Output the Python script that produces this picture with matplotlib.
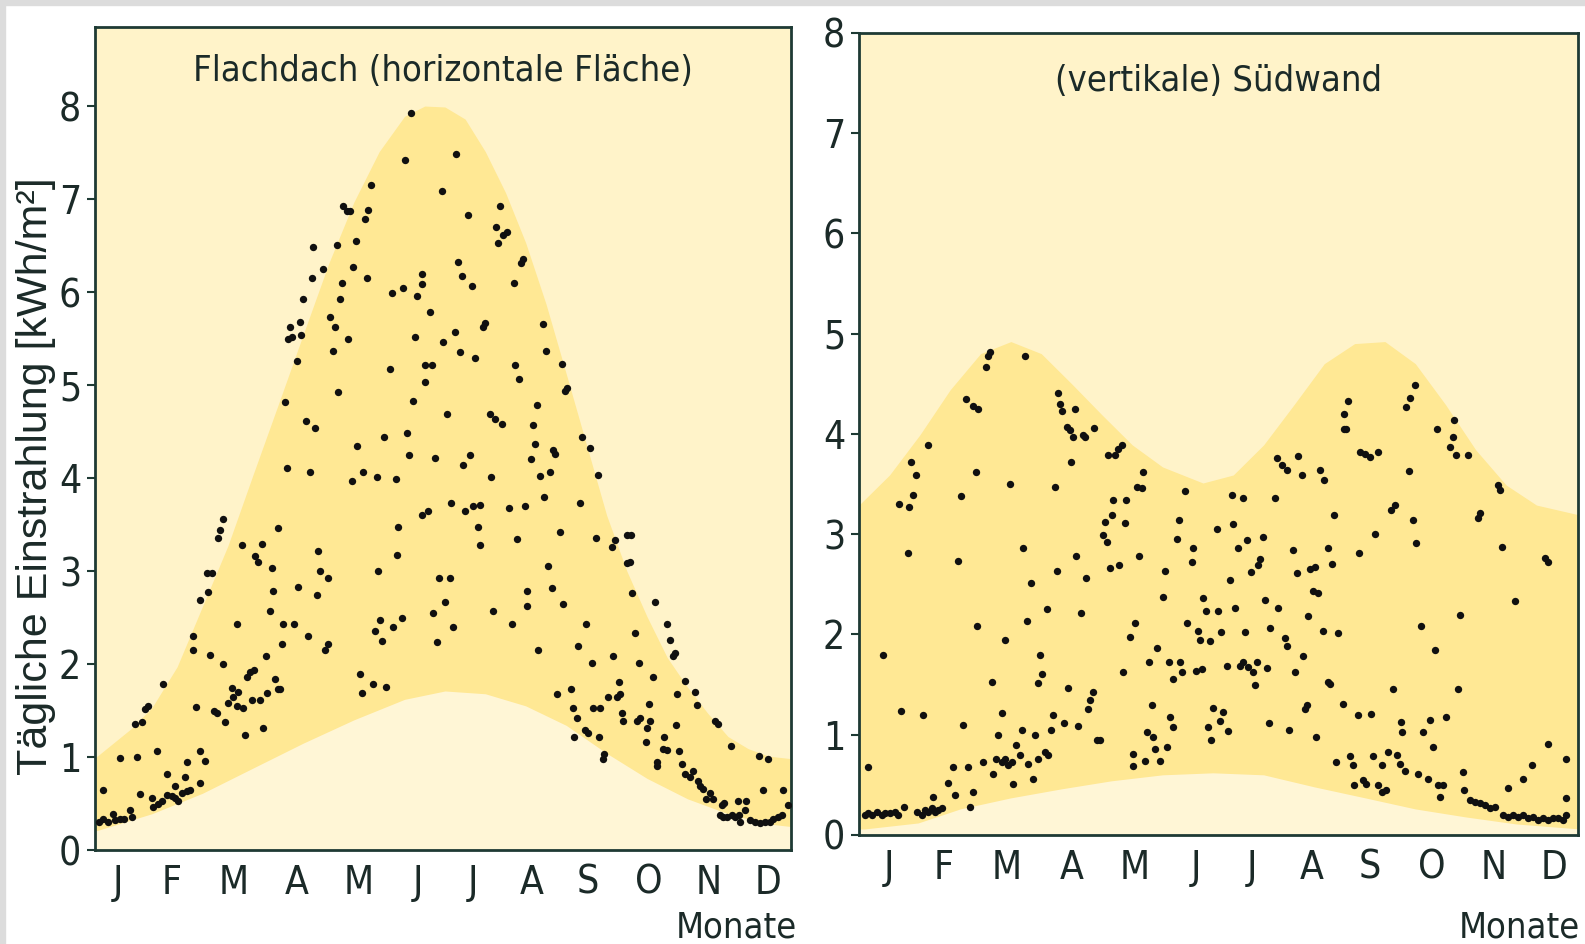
import matplotlib
matplotlib.use('Agg')
import matplotlib.pyplot as plt
from matplotlib.patches import Rectangle
from matplotlib import font_manager as fm

# ---------------- data ----------------
months = ['J', 'F', 'M', 'A', 'M', 'J', 'J', 'A', 'S', 'O', 'N', 'D']
month_pos = [15, 43, 75, 108, 140, 171, 199.5, 230, 259.5, 291, 322, 353]

# Flachdach (horizontal surface): day of year, daily irradiation kWh/m2
flat_day = [7.4, 4.9, 7.4, 10.0, 12.6, 13.5, 16.1, 17.9, 21.3, 22.2, 15.8, 24.8, 26.2, 23.6, 27.4, 28.8, 30.8,
            32.6, 33.4, 36.0, 37.8, 40.4, 43.0, 44.7, 46.4, 48.2, 50.8, 52.5, 35.5, 38.3, 40.4, 44.7, 49.9,
            51.1, 57.7, 60.3, 57.7, 55.6, 53.9, 54.2, 57.4, 61.2, 63.8, 62.0, 67.2, 68.1, 69.5, 62.9, 65.0,
            66.4, 69.8, 70.7, 72.4, 74.2, 75.0, 76.8, 77.6, 80.2, 81.1, 82.0, 83.7, 84.6, 85.5, 88.9, 90.6,
            92.4, 96.7, 98.4, 100.2, 99.3, 76.8, 79.4, 86.3, 88.0, 89.8, 92.0, 94.1, 95.0, 95.8, 98.1, 101.0,
            106.6, 101.9, 102.8, 103.6, 104.5, 105.4, 109.7, 110.2, 108.0, 111.4, 108.8, 112.8, 117.5, 114.6,
            114.0, 115.8, 116.6, 121.8, 119.2, 120.1, 124.4, 118.4, 122.7, 124.4, 125.3, 127.9, 126.7, 128.8,
            129.6, 130.5, 131.7, 132.2, 134.0, 135.7, 134.5, 136.6, 137.4, 138.6, 139.2, 140.9, 141.8, 142.6,
            143.5, 145.2, 146.6, 144.4, 147.5, 151.3, 152.2, 148.7, 154.4, 158.2, 162.6, 149.6, 150.4, 153.4,
            156.2, 157.4, 159.6, 160.8, 160.3, 163.4, 165.2, 166.5, 164.3, 167.2, 168.3, 169.5, 170.4,
            173.0, 173.0, 177.3, 174.7, 178.2, 174.7, 184.2, 183.4, 190.8, 192.0, 193.8, 199.0, 196.9, 190.0,
            192.9, 200.7, 186.0, 179.9, 173.0, 176.4, 188.0, 195.5, 199.8, 203.3, 202.4, 203.3, 194.6, 197.8,
            182.1, 187.4, 185.1, 179.0, 189.1, 180.8, 205.9, 205.0, 213.7, 211.6, 217.5, 212.8, 215.4, 208.5,
            211.1, 214.6, 208.8, 209.9, 219.8, 218.5, 222.4, 226.7, 221.5, 223.7, 221.0, 224.4, 225.8, 232.8,
            230.7, 231.9, 229.6, 234.5, 239.7, 236.6, 241.4, 242.3, 227.6, 227.9, 233.6, 235.9, 237.6, 238.8,
            240.6, 244.9, 245.8, 248.4, 247.5, 246.6, 255.3, 256.5, 260.5, 264.5, 254.4, 258.4, 261.4, 263.4,
            243.2, 250.4, 251.5, 253.6, 257.9, 259.6, 252.2, 265.3, 267.8, 267.1, 262.2, 265.7, 269.7, 272.3,
            274.4, 275.7, 277.0, 276.1, 277.8, 271.7, 273.5, 279.6, 281.6, 281.3, 279.9, 282.1, 283.9, 286.1,
            284.8, 286.5, 290.0, 291.7, 289.6, 291.3, 293.4, 294.3, 295.2, 295.5, 299.0, 300.4, 298.3, 300.4,
            302.1, 303.8, 304.7, 305.9, 305.2, 306.9, 309.9, 315.1, 316.0, 308.1, 309.9, 312.5, 314.2, 316.8,
            317.7, 319.4, 320.8, 322.9, 324.6, 329.0, 330.2, 325.5, 326.9, 333.6, 328.1, 329.8, 331.5, 334.1,
            335.9, 337.6, 338.1, 338.5, 341.6, 341.1, 343.7, 346.3, 348.9, 351.5, 354.1, 355.8, 358.4, 360.1,
            348.5, 353.2, 350.6, 360.7, 363.6]
flat_val = [0.65, 0.30, 0.33, 0.30, 0.39, 0.32, 0.33, 0.33, 0.43, 0.35, 0.99, 1.00, 0.60, 1.35, 1.38, 1.52, 1.55,
            0.56, 0.46, 0.49, 0.53, 0.59, 0.58, 0.56, 0.53, 0.61, 0.63, 0.64, 1.06, 1.78, 0.82, 0.69, 0.79,
            0.95, 1.06, 0.96, 0.72, 1.54, 2.30, 2.15, 2.69, 2.98, 2.98, 2.77, 3.36, 3.44, 3.56, 2.10, 1.50,
            1.47, 2.00, 1.38, 1.58, 1.74, 1.64, 1.55, 1.70, 1.53, 1.24, 1.86, 1.91, 1.61, 1.94, 1.61, 1.31,
            1.69, 1.84, 1.73, 2.22, 1.73, 2.43, 3.28, 3.16, 3.10, 3.29, 2.09, 2.57, 3.03, 2.78, 3.46, 2.43,
            2.43, 4.82, 4.11, 5.49, 5.62, 5.52, 5.68, 5.54, 5.26, 5.92, 2.83, 4.61, 4.54, 4.06,
            2.30, 6.15, 6.48, 6.25, 3.22, 3.00, 2.93, 2.74, 2.15, 2.22, 5.73, 5.62, 5.37, 6.51,
            4.92, 5.92, 6.10, 6.93, 6.87, 6.87, 5.49, 3.97, 6.27, 6.55, 4.34, 1.89, 1.69, 4.06,
            6.79, 6.88, 7.15, 6.15, 1.79, 2.47, 2.25, 2.35, 1.75, 2.40, 2.50, 4.01, 3.00, 4.44,
            5.17, 5.99, 3.99, 3.47, 3.17, 6.04, 4.48, 4.25, 7.42, 7.92, 4.83, 5.52, 5.96,
            6.19, 6.09, 5.79, 5.22, 5.22, 5.03, 5.46, 7.09, 7.48, 6.32, 6.17, 6.06, 6.83, 5.57,
            5.36, 5.29, 4.69, 4.22, 3.60, 3.65, 3.73, 3.65, 3.70, 3.71, 3.47, 3.28, 4.14, 4.25,
            2.92, 2.92, 2.67, 2.55, 2.40, 2.24, 5.67, 5.62, 6.93, 6.70, 6.65, 6.53, 6.61, 4.69,
            4.64, 4.58, 4.01, 2.57, 2.43, 3.68, 3.34, 3.70, 5.21, 5.06, 6.10, 6.31, 6.35, 4.78,
            4.57, 4.37, 4.20, 4.02, 4.07, 3.80, 4.30, 4.26, 2.78, 2.62, 2.15, 5.66, 5.37, 3.05,
            2.82, 3.42, 5.23, 4.97, 4.94, 2.65, 3.73, 4.44, 4.32, 4.03, 2.19, 2.43, 2.01, 3.36,
            1.68, 1.73, 1.53, 1.42, 1.29, 1.26, 1.21, 1.21, 1.03, 0.98, 1.53, 1.53, 1.64, 2.09,
            1.64, 1.81, 1.47, 1.68, 1.39, 3.26, 3.33, 3.39, 3.39, 3.10, 3.09, 2.76, 2.33, 2.01,
            1.39, 1.42, 1.31, 1.39, 1.16, 1.57, 1.86, 2.67, 0.90, 0.95, 1.21, 1.08, 1.09, 2.43,
            2.26, 2.09, 2.12, 1.68, 1.34, 1.06, 1.82, 1.70, 1.56, 0.92, 0.82, 0.79, 0.85, 0.74,
            0.69, 0.66, 0.55, 0.61, 0.55, 0.48, 0.51, 1.39, 1.36, 1.12, 0.38, 0.35, 0.35, 0.38,
            0.35, 0.53, 0.38, 0.30, 0.53, 0.43, 0.32, 0.30, 0.29, 0.30, 0.30, 0.33, 0.35, 0.38,
            1.01, 0.98, 0.65, 0.65, 0.48]

# envelope of the flat-roof band
flat_up_day = [0, 4.2, 22.1, 32.6, 45.7, 58.9, 72.1, 85.1, 98.3, 111.4, 124.6, 137.7, 150.8, 164.0, 174.5,
               185.0, 195.5, 206.0, 216.5, 227.0, 237.6, 248.1, 258.6, 269.1, 279.6, 290.1, 300.6, 311.2,
               321.7, 332.2, 342.7, 353.2, 366]
flat_up_val = [0.98, 1.01, 1.31, 1.53, 1.97, 2.62, 3.27, 4.03, 4.79, 5.55, 6.31, 6.97, 7.51, 7.89, 8.0,
               7.99, 7.86, 7.51, 7.07, 6.53, 5.87, 5.12, 4.36, 3.60, 3.00, 2.51, 2.07, 1.75,
               1.47, 1.22, 1.09, 1.01, 0.98]
flat_lo_day = [0, 4.2, 32.6, 58.9, 85.1, 111.4, 137.7, 164.0, 185.0, 206.0, 227.0, 248.1, 269.1, 290.1,
               311.2, 332.2, 353.2, 366]
flat_lo_val = [0.20, 0.21, 0.39, 0.61, 0.88, 1.15, 1.40, 1.62, 1.71, 1.68, 1.55, 1.34, 1.04, 0.77,
               0.55, 0.39, 0.28, 0.25]

# Suedwand (vertical south wall)
wall_day = [4.7, 12.3, 3.0, 4.7, 6.4, 9.0, 11.5, 13.2, 15.7, 18.3, 20.0, 20.4, 25.5, 27.3, 29.0, 26.2, 24.7,
            21.3, 23.0, 32.3, 35.2, 29.2, 31.8, 33.5, 35.2, 36.9, 38.6, 40.2, 41.9, 37.8, 45.3, 47.9, 48.8,
            55.5, 57.7, 56.4, 50.4, 51.6, 52.6, 54.3, 57.7, 60.5, 59.3, 60.0, 64.5, 65.7, 66.5,
            63.1, 68.2, 69.8, 72.4, 74.1, 75.8, 77.5, 78.4, 79.6, 81.7, 82.5, 86.0, 88.5, 89.3, 91.0, 94.4,
            96.1, 97.3, 67.4, 70.7, 72.4, 76.7, 74.1, 83.1, 84.3, 85.4, 87.1, 91.8, 92.7, 91.0, 95.6, 98.4,
            99.4, 100.3, 101.1, 102.0, 102.8, 105.4, 107.1, 109.6, 108.7, 114.7, 113.9, 119.2, 107.5, 104.0,
            106.3, 111.3, 110.1, 112.5, 115.2, 116.4, 117.3, 118.6, 120.6, 122.1, 124.0, 125.7, 124.9, 128.3,
            129.0, 127.4, 132.1, 126.6, 129.9, 131.6, 133.3, 135.5, 135.0, 137.6, 140.0, 134.2, 139.0, 139.0,
            145.2, 146.0, 148.5, 150.2, 151.1, 140.9, 143.5, 144.4, 142.3, 147.4, 149.3, 152.8, 156.2, 154.1,
            155.3, 157.5, 159.5, 162.9, 163.8, 158.1, 159.5, 161.6, 162.6, 165.5, 166.3,
            169.6, 168.8, 171.3, 173.9, 174.7, 176.1, 182.3, 178.0, 172.2, 173.0, 181.5, 190.0, 189.6, 195.0,
            179.8, 184.9, 183.2, 187.5, 177.3, 178.9, 184.0, 190.8, 188.2, 195.9, 186.6, 192.5, 197.1, 199.2,
            203.5, 205.2, 202.6, 206.1, 193.3, 195.0, 197.5, 200.1, 201.8, 200.9, 207.2, 208.5, 212.8, 208.2,
            218.3, 212.3, 214.5, 217.1, 222.9, 224.7, 211.1, 216.2, 217.3, 220.4, 222.1, 228.8, 231.4, 221.2,
            225.5, 228.0, 230.5, 233.1, 226.4, 227.2, 232.2, 234.0, 236.0, 235.3, 238.1, 240.3, 238.1, 239.0,
            241.0, 243.3, 242.4, 245.5, 249.1, 250.8, 251.2, 253.4, 256.0, 257.6, 260.1, 261.0, 263.6, 265.3,
            265.3, 267.7, 268.6, 272.9, 274.6, 277.0, 246.2, 246.2, 248.3, 247.4, 254.3, 259.3, 263.6, 256.8,
            253.9, 261.9, 270.3, 272.0, 271.1, 274.9, 275.9, 277.9, 279.9, 282.2, 279.3, 281.3, 283.0, 283.9,
            286.5, 288.9, 289.7, 291.5, 294.0, 294.9, 296.5, 298.2, 285.1, 292.3, 293.2, 301.3, 301.9, 299.9,
            303.3, 309.2, 305.0, 304.2, 306.4, 307.0, 310.1, 312.6, 315.2, 317.6, 320.2, 322.8, 314.3, 315.2,
            324.5, 325.3, 326.2, 329.5, 332.9, 337.1, 341.4, 327.0, 329.5, 332.1, 334.6, 337.1, 339.6, 342.2,
            344.8, 347.3, 349.8, 352.4, 354.9, 357.4, 359.1, 348.1, 349.8, 349.8, 359.1, 359.1]
wall_val = [0.68, 1.79, 0.20, 0.22, 0.20, 0.23, 0.20, 0.22, 0.22, 0.23, 0.20, 3.30, 3.27, 3.39, 3.59, 3.72, 2.81,
            1.24, 0.28, 1.20, 3.89, 0.23, 0.20, 0.25, 0.23, 0.27, 0.23, 0.25, 0.27, 0.38, 0.52, 0.68, 0.40,
            0.68, 0.43, 0.28, 2.73, 3.38, 1.10, 4.35, 4.28, 4.25, 3.62, 2.08, 4.67, 4.78, 4.82,
            0.73, 0.61, 0.76, 0.73, 0.76, 0.70, 0.73, 0.51, 0.90, 0.80, 1.05, 0.71, 0.56, 1.00, 0.76, 0.83,
            0.80, 1.05, 1.53, 1.00, 1.22, 3.50, 1.94, 2.86, 4.78, 2.13, 2.51, 1.79, 1.61, 1.52, 2.25, 1.20,
            3.47, 2.63, 4.41, 4.30, 4.23, 4.07, 4.04, 4.25, 3.97, 3.97, 3.99, 4.06, 3.72, 1.12,
            1.47, 1.09, 2.78, 2.21, 2.56, 1.26, 1.35, 1.43, 0.95, 0.95, 2.99, 2.92, 3.12, 3.19,
            3.34, 2.66, 2.69, 3.79, 3.79, 3.85, 3.89, 3.34, 3.11, 1.97, 2.11, 1.63, 0.81, 0.69,
            0.74, 1.03, 1.30, 0.86, 1.86, 3.47, 3.46, 3.62, 2.78, 1.73, 0.98, 0.74, 0.88, 2.37,
            2.63, 1.73, 1.56, 1.73, 1.63, 1.18, 1.08, 2.95, 3.14, 3.43, 2.11,
            2.86, 2.72, 1.64, 1.66, 2.36, 2.23, 2.23, 1.93, 2.03, 1.94, 3.05, 3.10, 3.39, 3.36,
            1.27, 1.23, 1.14, 1.04, 1.08, 0.95, 2.02, 2.26, 2.54, 2.02, 1.69, 2.86, 2.94, 2.62,
            2.75, 2.97, 2.69, 2.34, 1.69, 1.73, 1.68, 1.63, 1.73, 1.50, 1.67, 2.06, 2.26, 1.12,
            1.05, 3.76, 3.69, 3.64, 3.78, 3.59, 3.36, 1.96, 1.88, 2.84, 2.61, 2.65, 2.67, 1.63,
            1.78, 2.18, 2.43, 2.41, 1.26, 1.30, 0.98, 3.64, 3.54, 2.03, 2.86, 2.70, 1.53, 1.51,
            3.19, 2.01, 0.73, 1.31, 0.79, 0.70, 0.50, 1.20, 0.55, 0.51, 1.21, 0.79, 0.50, 0.70,
            0.43, 0.45, 0.83, 0.80, 0.71, 0.64, 4.05, 4.20, 4.33, 4.05, 3.82, 3.77, 3.82, 3.80,
            2.81, 3.00, 3.24, 3.29, 1.46, 1.13, 1.03, 4.27, 4.36, 4.49, 3.63, 3.14, 2.91, 0.61,
            1.03, 0.56, 1.15, 0.88, 0.50, 0.38, 0.50, 1.18, 2.08, 1.84, 4.05, 3.97, 4.14, 3.87,
            3.79, 3.79, 2.19, 1.46, 0.63, 0.45, 0.35, 0.33, 0.32, 0.30, 0.27, 0.28, 3.16, 3.21,
            3.49, 3.44, 2.87, 0.47, 2.33, 0.56, 0.70, 0.20, 0.18, 0.20, 0.18, 0.20, 0.17, 0.18,
            0.15, 0.17, 0.15, 0.17, 0.17, 0.15, 0.20, 2.76, 2.72, 0.91, 0.76, 0.37]

wall_up_day = [0, 15.5, 30.9, 46.3, 61.7, 77.1, 92.5, 107.9, 123.3, 138.7, 154.1, 174.6, 190.0, 205.4,
               220.8, 236.2, 251.6, 267.0, 282.4, 297.8, 313.1, 328.5, 343.9, 366]
wall_up_val = [3.29, 3.59, 3.99, 4.44, 4.80, 4.92, 4.80, 4.50, 4.19, 3.89, 3.67, 3.51, 3.59, 3.89,
               4.29, 4.70, 4.90, 4.92, 4.70, 4.29, 3.84, 3.49, 3.29, 3.19]
wall_lo_day = [0, 2.7, 30, 51.4, 77, 102.7, 128, 154.1, 179.7, 205.4, 231.1, 257, 282.4, 308, 333.6, 366]
wall_lo_val = [0.06, 0.06, 0.12, 0.26, 0.37, 0.46, 0.54, 0.60, 0.62, 0.60, 0.48, 0.37, 0.26, 0.18, 0.11,
               0.06]

titles = ['Flachdach (horizontale Fläche)', '(vertikale) Südwand']
ylabel = 'Tägliche Einstrahlung [kWh/m²]'
xlabel = 'Monate'

# ---------------- fonts ----------------
def find_condensed():
    cands = []
    for f in fm.fontManager.ttflist:
        st = str(f.stretch).lower()
        nm = f.name.lower()
        fn = f.fname.lower()
        is_cond = ('condensed' in st or 'narrow' in nm or 'condensed' in nm
                   or 'condensed' in fn or 'narrow' in fn)
        if not is_cond or 'mono' in nm or 'serif' in nm and 'sans' not in nm:
            continue
        if str(f.weight) not in ('400', 'normal', 'regular', 'book'):
            continue
        if f.style != 'normal':
            continue
        score = 0 if 'extra' in st or 'ultra' in st else 1
        cands.append((score, 'semi' in st, f.fname))
    if cands:
        cands.sort()
        return fm.FontProperties(fname=cands[0][2])
    return fm.FontProperties(family=['Roboto', 'DejaVu Sans'])

COND_FP = find_condensed()

def cfp(size):
    fp = COND_FP.copy()
    fp.set_size(size)
    return fp

BG = '#FFF3C9'
BAND = '#FFE894'
LOW = '#FFF6D6'
TXT = '#1b2a28'
SPINE = '#1e3a34'

fig = plt.figure(figsize=(15.85, 9.44), dpi=100, facecolor='white')
fig.patches.append(Rectangle((0, 1 - 5 / 944), 1, 5 / 944, transform=fig.transFigure,
                             color='#DCDCDC', zorder=0))
fig.patches.append(Rectangle((0, 0), 5 / 1585, 1, transform=fig.transFigure,
                             color='#DCDCDC', zorder=0))

axL = fig.add_axes([95 / 1585, 1 - 850 / 944, 696 / 1585, 823 / 944])
axR = fig.add_axes([859 / 1585, 1 - 835 / 944, 719 / 1585, 802.3 / 944])

panels = [
    (axL, flat_day, flat_val, flat_up_day, flat_up_val, flat_lo_day, flat_lo_val, (3, 365), 8.85, titles[0], 0.947),
    (axR, wall_day, wall_val, wall_up_day, wall_up_val, wall_lo_day, wall_lo_val, (0, 365), 8.0, titles[1], 0.94),
]

FS = 28
for ax, dd, vv, ud, uv, ld, lv, xl, ytop, title, ty in panels:
    ax.set_facecolor(BG)
    ax.fill_between(ud, uv, 0, color=BAND, lw=0, zorder=1)
    ax.fill_between(ld, lv, 0, color=LOW, lw=0, zorder=1.5)
    ax.scatter(dd, vv, s=28, c='#101010', linewidths=0, zorder=3)
    ax.set_xlim(*xl)
    ax.set_ylim(0, ytop)
    ax.set_xticks(month_pos)
    ax.set_xticklabels(months, fontproperties=cfp(FS), color=TXT)
    ax.set_yticks(range(0, 9))
    ax.set_yticklabels([str(i) for i in range(9)], fontproperties=cfp(FS), color=TXT)
    ax.tick_params(axis='x', length=0, pad=10)
    ax.tick_params(axis='y', length=6, width=1.5, color=SPINE, direction='out', pad=4)
    for s in ax.spines.values():
        s.set_color(SPINE)
        s.set_linewidth(2)
    ax.text(0.5, ty, title, transform=ax.transAxes, ha='center', va='center',
            fontproperties=cfp(26), color=TXT)

fig.text(797 / 1585, 1 - 937 / 944, xlabel, ha='right', va='baseline', fontproperties=cfp(26), color=TXT)
fig.text(1580 / 1585, 1 - 937 / 944, xlabel, ha='right', va='baseline', fontproperties=cfp(26), color=TXT)
fig.text(36 / 1585, 1 - 476 / 944, ylabel, rotation=90, ha='center', va='center',
         family=['Liberation Sans', 'DejaVu Sans'], fontsize=31, color=TXT)

fig.savefig('out.png', dpi=100, facecolor='white')
